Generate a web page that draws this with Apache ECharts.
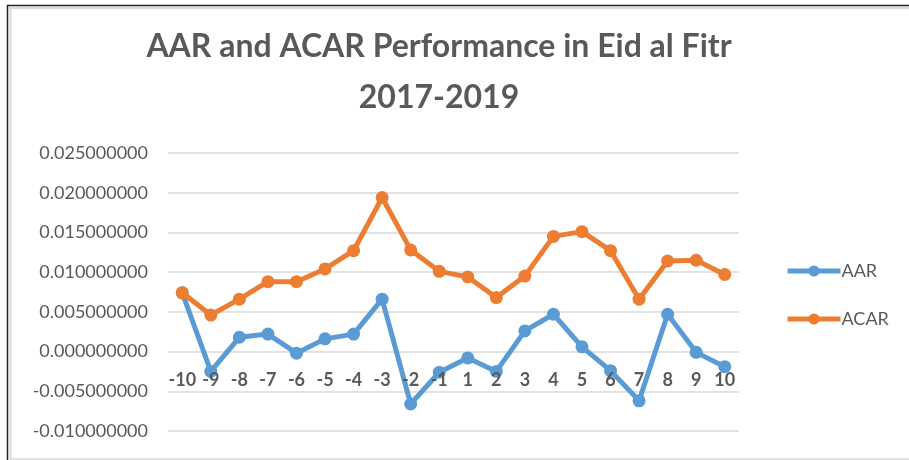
<!DOCTYPE html>
<html>
<head>
<meta charset="utf-8">
<script src="https://cdn.jsdelivr.net/npm/echarts@6/dist/echarts.min.js"></script>
<style>
html,body{margin:0;padding:0;background:#fff;}
#chart{width:909px;height:460px;}
</style>
</head>
<body>
<div id="chart"></div>
<script>
var categories = ['-10','-9','-8','-7','-6','-5','-4','-3','-2','-1','1','2','3','4','5','6','7','8','9','10'];
var aar  = [0.0074, -0.0025, 0.0018, 0.0022, -0.0002, 0.0016, 0.0022, 0.0066, -0.0066, -0.0026, -0.0008, -0.0025, 0.0026, 0.0047, 0.0006, -0.0024, -0.0062, 0.0047, -0.0001, -0.0019];
var acar = [0.0074, 0.0046, 0.0066, 0.0088, 0.0088, 0.0104, 0.0127, 0.0194, 0.0128, 0.0101, 0.0094, 0.0068, 0.0095, 0.0145, 0.0151, 0.0127, 0.0066, 0.0114, 0.0115, 0.0097];
var seriesNames = ['AAR', 'ACAR'];
var titleText = 'AAR and ACAR Performance in Eid al Fitr\n2017-2019';
var yMin = -0.01, yMax = 0.025, yStep = 0.005;

var FONT = 'Lato, "Open Sans", sans-serif';
var GRAY = '#595959';
var chart = echarts.init(document.getElementById('chart'), null, {renderer: 'canvas'});
chart.setOption({
  backgroundColor: '#ffffff',
  animation: false,
  title: {
    text: titleText,
    left: 434,
    top: 16,
    textAlign: 'center',
    textStyle: {fontFamily: FONT, fontWeight: 'bold', fontSize: 32, color: GRAY, lineHeight: 51}
  },
  legend: {
    orient: 'vertical',
    left: 780,
    top: 257,
    itemWidth: 53,
    itemHeight: 14,
    itemGap: 30,
    lineStyle: {width: 5},
    textStyle: {fontFamily: FONT, fontSize: 18, color: GRAY, padding: [0, 0, 0, -4]},
    data: seriesNames
  },
  grid: {left: 168, right: 170, top: 153, bottom: 29, containLabel: false, outerBoundsMode: 'none'},
  xAxis: {
    type: 'category',
    data: categories,
    boundaryGap: true,
    z: 5,
    axisLine: {show: false, onZero: false},
    axisTick: {show: false},
    axisLabel: {fontFamily: FONT, fontWeight: 'bold', fontSize: 18, color: GRAY, margin: 20, interval: 0}
  },
  yAxis: {
    type: 'value',
    min: yMin,
    max: yMax,
    interval: yStep,
    axisLine: {show: false},
    axisTick: {show: false},
    splitLine: {lineStyle: {color: '#d9d9d9', width: 1.5}},
    axisLabel: {
      fontFamily: FONT, fontSize: 18, color: GRAY, margin: 20,
      formatter: function (v) { return (Math.round(v * 1000) / 1000).toFixed(9); }
    }
  },
  series: [
    {
      name: seriesNames[0], type: 'line', data: aar,
      symbol: 'circle', symbolSize: 13,
      itemStyle: {color: '#5B9BD5'},
      lineStyle: {color: '#5B9BD5', width: 5}
    },
    {
      name: seriesNames[1], type: 'line', data: acar,
      symbol: 'circle', symbolSize: 13,
      itemStyle: {color: '#ED7D31'},
      lineStyle: {color: '#ED7D31', width: 5}
    }
  ],
  graphic: [
    {type: 'line', shape: {x1: 7, y1: 5.5, x2: 909, y2: 5.5}, style: {stroke: '#222', lineWidth: 1.5}},
    {type: 'line', shape: {x1: 7.5, y1: 5, x2: 7.5, y2: 460}, style: {stroke: '#222', lineWidth: 1.5}},
    {type: 'line', shape: {x1: 9, y1: 8, x2: 909, y2: 8}, style: {stroke: '#d9d9d9', lineWidth: 2}},
    {type: 'line', shape: {x1: 10.5, y1: 8, x2: 10.5, y2: 460}, style: {stroke: '#d9d9d9', lineWidth: 2}},
    {type: 'line', shape: {x1: 10, y1: 459, x2: 909, y2: 459}, style: {stroke: '#d9d9d9', lineWidth: 1.5}}
  ]
});
// place the category axis labels on the zero line of the value axis (as in the reference)
var yZero = chart.convertToPixel({yAxisIndex: 0}, 0);
var yBottom = chart.convertToPixel({yAxisIndex: 0}, yMin);
chart.setOption({xAxis: {offset: yZero - yBottom}});
</script>
</body>
</html>
